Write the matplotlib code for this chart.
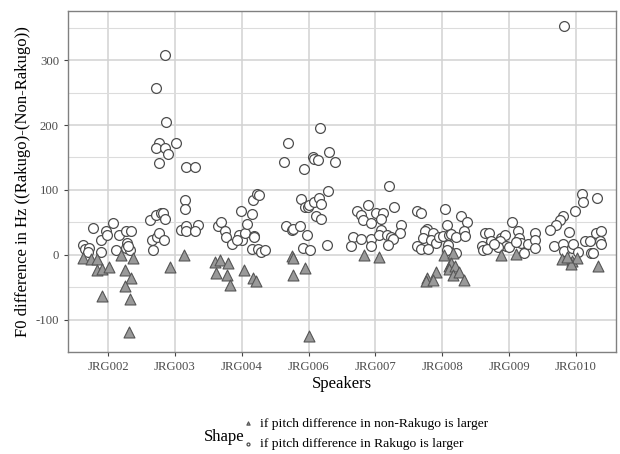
import numpy as np
import matplotlib
matplotlib.use("Agg")
import matplotlib.pyplot as plt
from matplotlib.ticker import MultipleLocator

speakers = ["JRG002", "JRG003", "JRG004", "JRG006", "JRG007", "JRG008", "JRG009", "JRG010"]

# F0 difference (Hz) where Rakugo difference is larger (circles), one list per speaker
rak_vals = [
    [41, 15, 9, 10, 4, 23, 36, 30, 49, 5, 7, 31, 36, 37, 18, 10, 8, 14],
    [308, 257, 204, 173, 173, 164, 164, 156, 142, 135, 135, 85, 70, 54, 62, 64, 65, 55,
     23, 28, 33, 22, 7, 38, 45, 37, 46, 36],
    [44, 50, 36, 27, 17, 68, 31, 23, 33, 47, 63, 84, 93, 92, 29, 9, 9, 4, 8, 23, 27],
    [173, 143, 195, 159, 143, 151, 147, 146, 133, 86, 74, 73, 77, 82, 87, 78, 60, 55, 99,
     45, 38, 40, 45, 31, 11, 8, 15],
    [106, 67, 62, 77, 54, 49, 64, 65, 55, 74, 46, 33, 27, 24, 14, 24, 14, 38, 31, 31, 27, 24, 15],
    [67, 65, 70, 60, 50, 46, 39, 36, 26, 33, 22, 13, 9, 9, 18, 27, 29, 31, 32, 27, 37, 29, 15, 8, 2],
    [50, 34, 33, 21, 14, 8, 9, 26, 31, 21, 14, 12, 12, 37, 26, 18, 19, 3, 17, 33, 22, 10, 17],
    [353, 94, 82, 88, 67, 59, 53, 46, 38, 35, 13, 17, 6, 10, 17, 4, 21, 21, 33, 36, 21, 17, 3, 2],
]
# horizontal jitter of those points
rak_jit = [
    [-0.225, -0.375, -0.35, -0.285, -0.3, -0.1, -0.035, -0.015, 0.075, -0.11, 0.125, 0.165,
     0.275, 0.35, 0.285, 0.275, 0.335, 0.3],
    [-0.155, -0.285, -0.13, 0.02, -0.24, -0.28, -0.145, -0.105, -0.245, 0.17, 0.295, 0.155,
     0.155, -0.37, -0.29, -0.205, -0.18, -0.155, -0.34, -0.27, -0.24, -0.165, -0.33, 0.085,
     0.16, 0.17, 0.345, 0.295],
    [-0.36, -0.315, -0.25, -0.235, -0.14, -0.015, -0.035, 0.0, 0.05, 0.085, 0.15, 0.165, 0.225,
     0.26, 0.19, 0.15, 0.25, 0.29, 0.355, -0.065, 0.18],
    [-0.315, -0.375, 0.175, 0.31, 0.4, 0.06, 0.075, 0.135, -0.065, -0.115, -0.05, -0.015, 0.0,
     0.085, 0.16, 0.185, 0.11, 0.185, 0.285, -0.34, -0.255, -0.24, -0.125, -0.025, -0.08,
     0.025, 0.27],
    [0.2, -0.27, -0.21, -0.11, -0.185, -0.07, 0.015, 0.115, 0.09, 0.28, 0.38, 0.365, -0.335,
     -0.22, -0.36, -0.06, -0.07, 0.09, 0.055, 0.18, 0.24, 0.265, 0.19],
    [-0.375, -0.315, 0.045, 0.275, 0.375, 0.075, -0.225, -0.255, -0.29, -0.14, -0.175, -0.375,
     -0.325, -0.215, -0.1, -0.055, 0.01, 0.095, 0.135, 0.21, 0.325, 0.345, 0.085, 0.075, 0.2],
    [0.04, -0.36, -0.3, -0.275, -0.41, -0.385, -0.335, -0.12, -0.06, -0.135, -0.05, -0.16,
     0.005, 0.14, 0.15, 0.175, 0.1, 0.225, 0.29, 0.39, 0.39, 0.39, -0.225],
    [-0.175, 0.095, 0.11, 0.31, -0.015, -0.19, -0.24, -0.29, -0.39, -0.1, -0.325, -0.19,
     -0.175, -0.055, -0.04, 0.035, 0.135, 0.21, 0.295, 0.375, 0.36, 0.375, 0.225, 0.26],
]

# F0 difference (Hz) where non-Rakugo difference is larger (triangles)
non_vals = [
    [-5, -6, -6, -23, -22, -19, -63, 0, -5, -23, -36, -48, -68, -119],
    [0, -19],
    [-11, -8, -13, -28, -31, -46, -23, -36, -40],
    [-2, -5, -32, -21, -125],
    [0, -4],
    [0, 2, -17, -12, -22, -18, -31, -26, -26, -36, -41, -39, -39],
    [0, 1],
    [-7, -9, -5, -14, -4, -17],
]
non_jit = [
    [-0.375, -0.25, -0.165, -0.165, -0.085, 0.015, -0.085, 0.2, 0.375, 0.25, 0.35, 0.25, 0.325, 0.315],
    [0.135, -0.07],
    [-0.4, -0.325, -0.21, -0.385, -0.225, -0.175, 0.035, 0.175, 0.21],
    [-0.255, -0.24, -0.23, -0.05, 0.0],
    [-0.17, 0.05],
    [0.025, 0.16, 0.095, 0.135, 0.095, 0.185, 0.16, 0.245, -0.09, -0.225, -0.24, -0.14, 0.325],
    [-0.125, 0.11],
    [-0.205, -0.065, 0.01, -0.075, -0.14, 0.335],
]

plt.rcParams['font.family'] = ['Liberation Serif', 'DejaVu Serif']
plt.rcParams['axes.unicode_minus'] = False

fig = plt.figure(figsize=(6.2, 4.54), dpi=100)
ax = fig.add_axes([0.1097, 0.2247, 0.8838, 0.7511])

pos = np.arange(1, len(speakers) + 1)
rx = np.concatenate([p + np.array(j) for p, j in zip(pos, rak_jit)])
ry = np.concatenate([np.array(v) for v in rak_vals])
nx = np.concatenate([p + np.array(j) for p, j in zip(pos, non_jit)])
ny = np.concatenate([np.array(v) for v in non_vals])

circ = ax.scatter(rx, ry, s=50, marker='o', facecolor='white', edgecolor='#4d4d4d',
                  linewidths=0.9, zorder=3)
tri = ax.scatter(nx, ny, s=62, marker='^', facecolor='#999999', edgecolor='#555555',
                 linewidths=0.8, zorder=4)

ax.set_xlim(0.4, 8.6)
ax.set_ylim(-150, 376)
ax.set_xticks(pos)
ax.set_xticklabels(speakers)
ax.yaxis.set_major_locator(MultipleLocator(100))
ax.yaxis.set_minor_locator(MultipleLocator(50))

ax.grid(True, which='major', color='#d2d2d2', linewidth=1.1, zorder=0)
ax.grid(True, which='minor', axis='y', color='#dcdcdc', linewidth=0.8, zorder=0)
ax.set_axisbelow(True)
for sp in ax.spines.values():
    sp.set_color('#808080')
    sp.set_linewidth(1.0)

ax.tick_params(which='major', length=3, width=0.8, color='#444444',
               labelcolor='#4d4d4d', labelsize=9.2)
ax.tick_params(which='minor', length=0)

ax.set_xlabel("Speakers", fontsize=12, labelpad=2)
ax.set_ylabel("F0 difference in Hz ((Rakugo)-(Non-Rakugo))", fontsize=12, labelpad=3)

# legend at the bottom, title on the left
fig.text(0.362, 0.037, "Shape", fontsize=12, ha='center', va='center')
fig.legend([tri, circ],
           ["if pitch difference in non-Rakugo is larger",
            "if pitch difference in Rakugo is larger"],
           loc='center left', bbox_to_anchor=(0.383, 0.044), frameon=False,
           markerscale=0.3, fontsize=9.7, handlelength=0.8, handletextpad=0.5,
           labelspacing=0.6, borderaxespad=0)

fig.savefig("out.png", dpi=100)
